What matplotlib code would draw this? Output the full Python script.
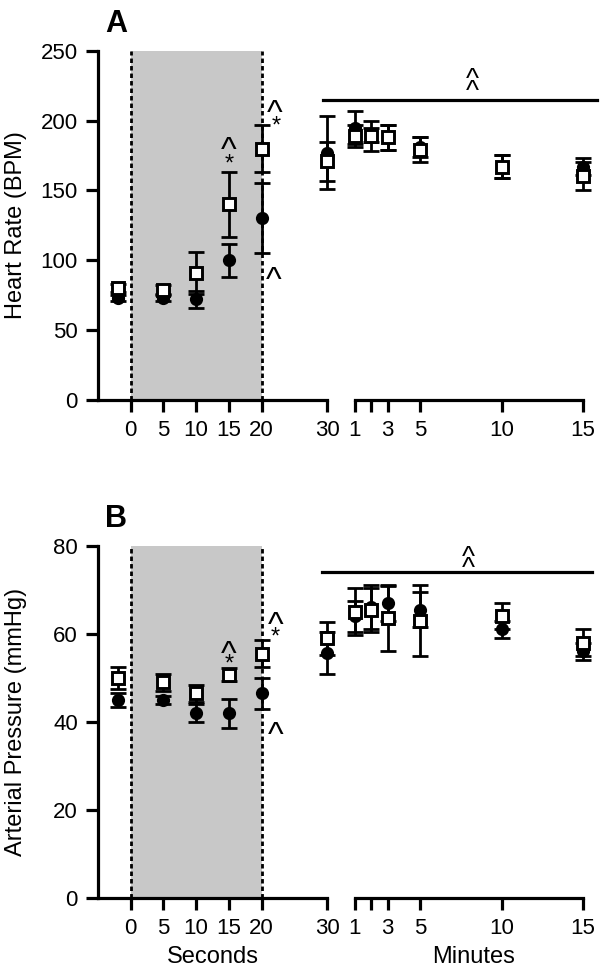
import numpy as np
import matplotlib
matplotlib.use('Agg')
import matplotlib.pyplot as plt

plt.rcParams['font.family'] = ['Liberation Sans', 'DejaVu Sans']

# time points
sec_x = [-2, 5, 10, 15, 20, 30]
min_x = [1, 2, 3, 5, 10, 15]
sec_ticks = [0, 5, 10, 15, 20, 30]
min_ticks = [1, 2, 3, 5, 10, 15]
min_tick_labels = ['1', '', '3', '5', '10', '15']

# A: heart rate (BPM), filled circles / open squares
hr_circ_sec = [73, 73, 72, 100, 130, 177]
hr_circ_sec_err = [2, 2, 6, 12, 25, 26]
hr_sq_sec = [80, 79, 91, 140, 180, 171]
hr_sq_sec_err = [3, 3, 15, 23, 17, 14]
hr_circ_min = [195, 190, 188, 181, 167, 167]
hr_circ_min_err = [12, 5, 9, 7, 8, 6]
hr_sq_min = [189, 189, 188, 179, 167, 160]
hr_sq_min_err = [8, 11, 9, 9, 8, 10]

# B: arterial pressure (mmHg)
ap_circ_sec = [45, 45, 42, 42, 46.5, 55.7]
ap_circ_sec_err = [1.5, 1, 2, 3.3, 3.5, 4.7]
ap_sq_sec = [50, 49, 46.5, 50.7, 55.5, 59]
ap_sq_sec_err = [2.5, 2, 2, 1.5, 3, 3.8]
ap_circ_min = [64, 66, 67, 65.5, 61, 56]
ap_circ_min_err = [3.5, 5, 4, 4, 2, 2]
ap_sq_min = [65, 65.5, 63.5, 63, 64, 58]
ap_sq_min_err = [5.3, 5, 7.3, 8, 3, 3]

W, H = 600, 968
fig = plt.figure(figsize=(W / 100, H / 100), dpi=100)

LW = 2.3


def px_axes(x0, x1, ytop, ybot):
    return fig.add_axes([x0 / W, 1 - ybot / H, (x1 - x0) / W, (ybot - ytop) / H])


def series(ax, x, y, err, filled):
    eb = ax.errorbar(x, y, yerr=err, fmt='none', ecolor='black', elinewidth=2,
                     capsize=5.5, capthick=2, zorder=3 if filled else 4)
    for a in eb.get_children():
        a.set_clip_on(False)
    if filled:
        ax.plot(x, y, 'o', color='black', ms=9.5, mec='black', mew=0, zorder=3.5, clip_on=False)
    else:
        ax.plot(x, y, 's', mfc='white', mec='black', ms=8.5, mew=2.1, zorder=4.5, clip_on=False)


def caret(ax, x, y, ch='^', fs=21):
    # centre the glyph (not its text box) on (x, y)
    off = -0.52 * fs if ch == '^' else -0.57 * fs
    ax.annotate(ch, xy=(x, y), xytext=(0, off), textcoords='offset points',
                ha='center', va='baseline', fontsize=fs, annotation_clip=False)


def panel(ytop, ybot, ymax, ystep, ylabel, letter, cs, cse, ss, sse, cm, cme, sm, sme,
          marks, bar_y, dbl):
    axL = px_axes(98, 327, ytop, ybot)
    axR = px_axes(355, 583, ytop, ybot)
    for ax in (axL, axR):
        ax.set_ylim(0, ymax)
        for s in ('top', 'right'):
            ax.spines[s].set_visible(False)
        ax.spines['bottom'].set_linewidth(LW)
        ax.spines['left'].set_linewidth(LW)
        ax.tick_params(width=LW, length=8.5, labelsize=16, pad=6)
        ax.patch.set_alpha(0)
    axR.spines['left'].set_visible(False)
    axR.tick_params(axis='y', left=False, labelleft=False)
    axL.set_yticks(np.arange(0, ymax + 1, ystep))
    axL.tick_params(axis='y', pad=6)

    axL.set_xlim(-5, 30)
    axL.set_xticks(sec_ticks)
    axR.set_xlim(1, 15)
    axR.set_xticks(min_ticks)
    axR.set_xticklabels(min_tick_labels)

    axL.axvspan(0, 20, color='#c8c8c8', lw=0, zorder=0)
    for xv in (0, 20):
        axL.plot([xv, xv], [0, ymax], color='black', lw=2, ls=(0, (1.6, 1.1)), zorder=1)

    series(axL, sec_x, cs, cse, True)
    series(axL, sec_x, ss, sse, False)
    series(axR, min_x, cm, cme, True)
    series(axR, min_x, sm, sme, False)

    for x, y, ch in marks:
        caret(axL, x, y, ch, 24 if ch == '^' else 17)

    axR.plot([bar_y[0], bar_y[1]], [bar_y[2], bar_y[2]], color='black', lw=LW, clip_on=False)
    for x, y in dbl:
        caret(axR, x, y, '^', 20)

    fig.text(16 / W, 1 - (ytop + ybot) / 2 / H, ylabel, rotation=90, ha='center', va='center',
             fontsize=17)
    fig.text(116 / W, 1 - (ytop - 19) / H, letter, ha='center', va='baseline',
             fontsize=22, fontweight='bold')
    return axL, axR


panel(50.7, 400, 250, 50, 'Heart Rate (BPM)', 'A',
      hr_circ_sec, hr_circ_sec_err, hr_sq_sec, hr_sq_sec_err,
      hr_circ_min, hr_circ_min_err, hr_sq_min, hr_sq_min_err,
      [(15, 184.3, '^'), (15, 173.6, '*'), (22.0, 210.6, '^'), (22.2, 201, '*'), (21.9, 91.3, '^')],
      (-0.98, 15.86, 214.5), [(8.2, 234.4), (8.2, 225.5)])

panel(545.7, 898.3, 80, 20, 'Arterial Pressure (mmHg)', 'B',
      ap_circ_sec, ap_circ_sec_err, ap_sq_sec, ap_sq_sec_err,
      ap_circ_min, ap_circ_min_err, ap_sq_min, ap_sq_min_err,
      [(15, 57.2, '^'), (15, 54.8, '*'), (22.1, 63.7, '^'), (22.1, 60.9, '*'), (22.1, 38.8, '^')],
      (-1.04, 15.57, 74.1), [(7.94, 79.0), (7.94, 76.3)])

fig.text(213 / W, 1 - 963 / H, 'Seconds', ha='center', va='baseline', fontsize=17)
fig.text(474 / W, 1 - 963 / H, 'Minutes', ha='center', va='baseline', fontsize=17)

fig.savefig('out.png', dpi=100)
